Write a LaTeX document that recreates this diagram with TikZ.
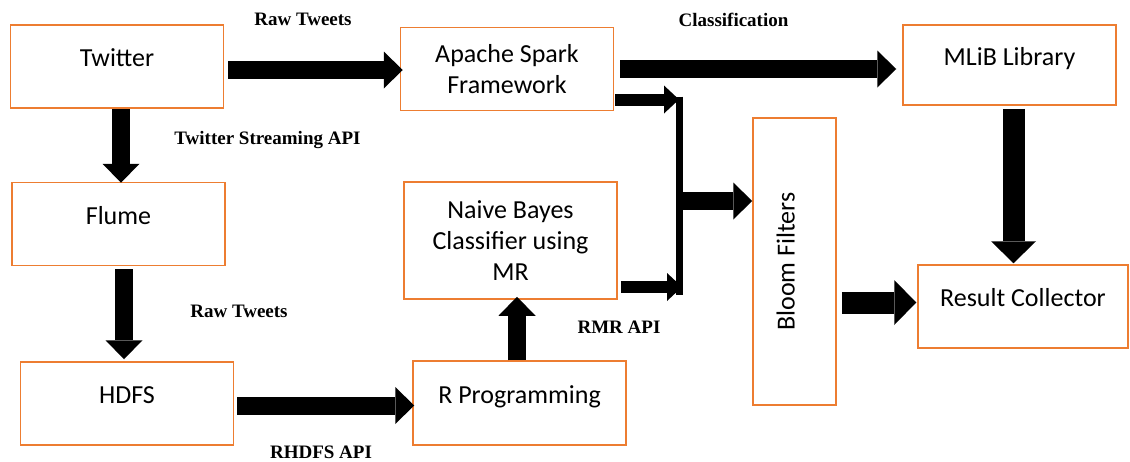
\documentclass[tikz,border=0pt]{standalone}
\usepackage{fontspec}
\setmainfont{Carlito}
\newfontfamily\apifont{Liberation Serif}
\usepackage{tikz}
\usetikzlibrary{arrows.meta, calc}
\usepackage{xcolor}
\definecolor{boxorange}{RGB}{237,125,49}

\begin{document}
\begin{tikzpicture}[x=1pt, y=-1pt]
	\tikzstyle{procnode}=[
	draw=boxorange,
	line width=1.5pt,
	rectangle,
	minimum width=213pt,
	minimum height=83pt,
	inner sep=0pt,
	align=center,
	font=\fontsize{26}{31}\selectfont
	]
	\tikzstyle{oneline}=[
	text height=17pt,
	text depth=17pt
	]
	\tikzstyle{apilabel}=[
	inner sep=0pt,
	font=\apifont\bfseries\fontsize{19}{22}\selectfont
	]
	\tikzstyle{fatarrow}=[line width=18pt, -{Triangle[length=19pt, width=37pt, line width=0pt]}]
	\tikzstyle{bigarrow}=[line width=22pt, -{Triangle[length=22pt, width=45pt, line width=0pt]}]
	\tikzstyle{smallarrow}=[line width=12pt, -{Triangle[length=15pt, width=28pt, line width=0pt]}]
	\tikzstyle{mergeline}=[line width=7pt]
	\fill[white] (0,0) rectangle (1130,461);
	\useasboundingbox (0,0) rectangle (1130,461);
	%
	\node[procnode, oneline] (tw) at (117,66.5) {Twitter};
	\node[procnode] (sp) at (507,69) {Apache Spark\\Framework};
	\node[procnode, oneline, minimum height=80pt] (ml) at (1009.5,65) {MLiB Library};
	\node[procnode, oneline] (fl) at (118.5,224) {Flume};
	\node[procnode, minimum height=117pt] (nb) at (510.5,240.5) {Naive Bayes\\Classifier using\\MR};
	\node[procnode, oneline] (hd) at (127,403.5) {HDFS};
	\node[procnode, oneline, minimum height=84pt] (rp) at (519.5,403) {R Programming};
	\node[procnode, oneline, rotate=90, minimum width=287pt] (bf) at (794.5,261.5) {Bloom Filters};
	\node[procnode, oneline, minimum width=210pt] (rc) at (1023,306.5) {Result Collector};
	%
	\node[apilabel] (rawtop) at (303,19.5) {Raw Tweets};
	\node[apilabel] (classif) at (733.5,20) {Classification};
	\node[apilabel] (streamapi) at (267.5,140.5) {Twitter Streaming API};
	\node[apilabel] (rawmid) at (239,311) {Raw Tweets};
	\node[apilabel] (rmrapi) at (619,327.5) {RMR API};
	\node[apilabel] (rhdfsapi) at (321,452.5) {RHDFS API};
	%
	\coordinate (mt) at (679,99.5);
	\coordinate (mb) at (679,287);
	\coordinate (mm) at (679,201);
	%
	\draw[fatarrow] ($(tw.east |- sp.west)+(4,1)$) -- ($(sp.west)+(3,1)$);
	\draw[fatarrow] ($(sp.east)+(6,0)$) -- ($(sp.east -| ml.west)+(-6,0)$);
	\draw[fatarrow] ($(tw.south)+(4,0)$) -- ($(tw.south |- fl.north)+(4,1)$);
	\draw[fatarrow] ($(fl.south)+(5.5,3)$) -- ($(fl.south |- hd.north)+(5.5,-2)$);
	\draw[fatarrow] ($(hd.east)+(3,2)$) -- ($(hd.east -| rp.west)+(2,2)$);
	\draw[fatarrow] ($(rp.north)+(-2.5,0)$) -- ($(rp.north |- nb.south)+(-2.5,-3)$);
	\draw[bigarrow] ($(ml.south)+(4,3)$) -- ($(ml.south |- rc.north)+(4,-1)$);
	\draw[bigarrow] ($(bf.south |- rc.west)+(5,-4)$) -- ($(rc.west)+(-1,-4)$);
	%
	\draw[mergeline] ($(mt)+(0,-3)$) -- ($(mb)+(0,8)$);
	\draw[smallarrow] ($(sp.east |- mt)+(1,0)$) -- (mt);
	\draw[smallarrow] ($(nb.east |- mb)+(3,0)$) -- ($(mb)+(3,0)$);
	\draw[fatarrow] (mm) -- (mm -| bf.north);
\end{tikzpicture}
\end{document}
